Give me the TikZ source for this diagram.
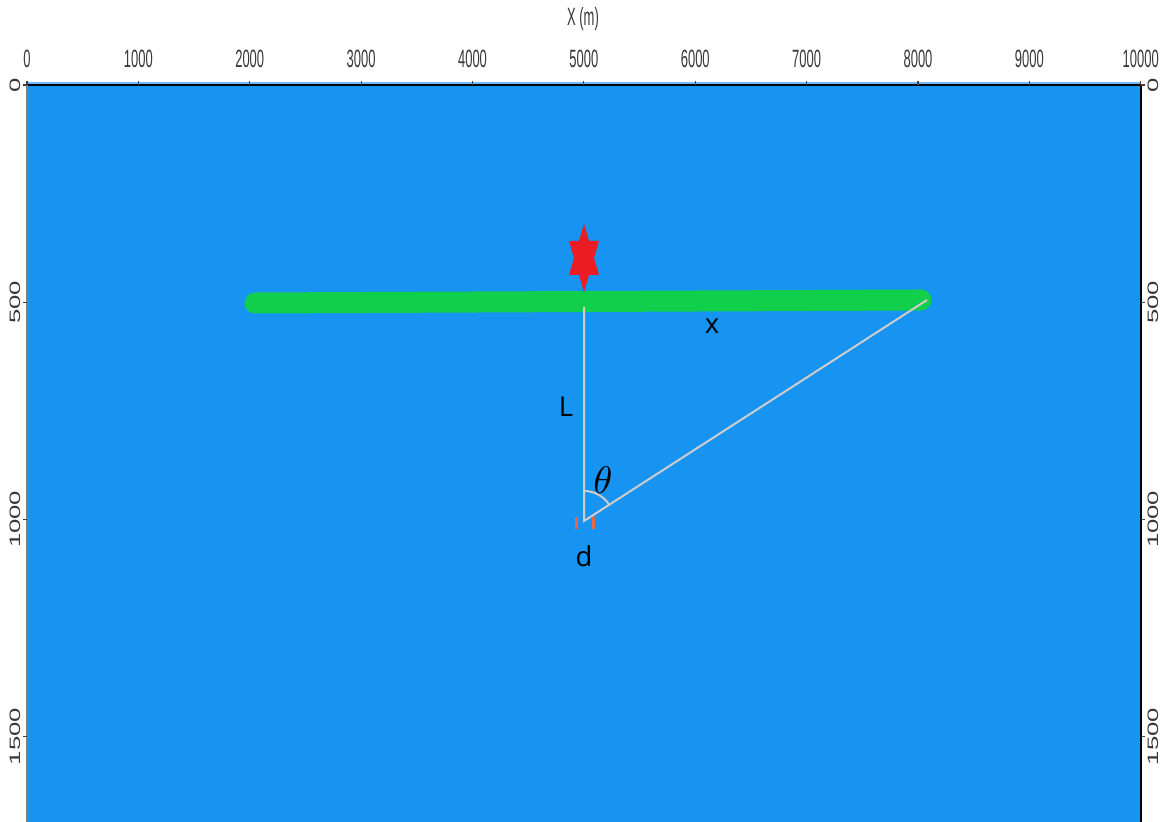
\documentclass[tikz,border=0pt]{standalone}
\usepackage{fontspec}
\setmainfont{Open Sans}
\setsansfont{Liberation Sans}
\usepackage{graphicx}
\usetikzlibrary{shapes.geometric}
\definecolor{sea}{RGB}{23,147,241}
\definecolor{seal}{RGB}{110,185,250}
\definecolor{bar}{RGB}{16,207,74}
\definecolor{shot}{RGB}{236,28,36}
\definecolor{ray}{RGB}{205,205,205}
\definecolor{rcv}{RGB}{238,100,70}
\definecolor{axtxt}{RGB}{55,55,55}
\newcommand{\toplab}[1]{\scalebox{0.52}[1]{\fontsize{7.1}{8}\selectfont\sffamily #1}}
\newcommand{\sidelab}[1]{\scalebox{1.7}[1]{\fontsize{4.3}{5}\selectfont\sffamily #1}}

\begin{document}
\begin{tikzpicture}[
  x=0.01cm, y=0.01cm,
  tl/.style={text=axtxt, inner sep=0pt},
  sl/.style={text=axtxt, inner sep=0pt, rotate=90},
  tk/.style={line width=0.012cm, black!75},
  rl/.style={draw=ray, line width=0.02cm},
  lb/.style={inner sep=0pt, font=\fontsize{7.8}{9}\selectfont},
  rx/.style={draw=rcv, line width=0.03cm}
]
\useasboundingbox (0,0) rectangle (1164,-822);
\fill[sea] (27,-85) rectangle (1141,-822);
\draw[seal, line width=0.02cm] (27,-83) -- (1141,-83);
\draw[black, line width=0.018cm] (27,-85) -- (1141,-85);
\draw[black!50, line width=0.012cm] (27,-85) -- (27,-822);
\draw[black, line width=0.012cm] (1141,-85) -- (1141,-822);

\node[tl] (xt) at (583,-19) {\toplab{X (m)}};
\foreach \v in {0,1000,...,10000}{
  \draw[tk] ({27+0.11137*\v},-85) -- ++(0,4);
  \node[tl] (x\v) at ({27+0.11137*\v},-59) {\toplab{\v}};
}
\foreach \v in {0,500,1000,1500}{
  \draw[tk] (27,{-85-0.4343*\v}) -- ++(-4,0);
  \draw[tk] (1141,{-85-0.4343*\v}) -- ++(4,0);
  \node[sl] (l\v) at (15,{-85-0.4343*\v}) {\sidelab{\v}};
  \node[sl] (r\v) at (1153,{-85-0.4343*\v}) {\sidelab{\v}};
}

\coordinate (bl) at (255,-303);
\coordinate (br) at (921,-300);
\coordinate (src) at (584,-258);
\coordinate (top) at (584,-307);
\coordinate (far) at (927,-300);
\coordinate (rec) at (584,-521);
\draw[bar, line width=0.21cm, line cap=round] (bl) -- (br);
\fill[shot, shift={(src)}] (0,34) -- (5,17) -- (15,17) -- (10,0) -- (15,-17) -- (5,-17)
  -- (0,-34) -- (-5,-17) -- (-15,-17) -- (-10,0) -- (-15,17) -- (-5,17) -- cycle;

\draw[rl] (top) -- (rec) -- (far);
\draw[rl] (rec) ++(90:30) arc[start angle=90, end angle=31, radius=30];
\draw[rx] (576,-517) -- (576,-529);
\draw[rx] (593,-517) -- (593,-529);

\node[lb] (xl) at (712,-326) {x};
\node[lb] (ll) at (566,-407) {L};
\node[lb, font=\fontsize{10.5}{12}\selectfont] (th) at (603,-480) {$\theta$};
\node[lb] (dl) at (584,-556) {d};
\end{tikzpicture}
\end{document}
